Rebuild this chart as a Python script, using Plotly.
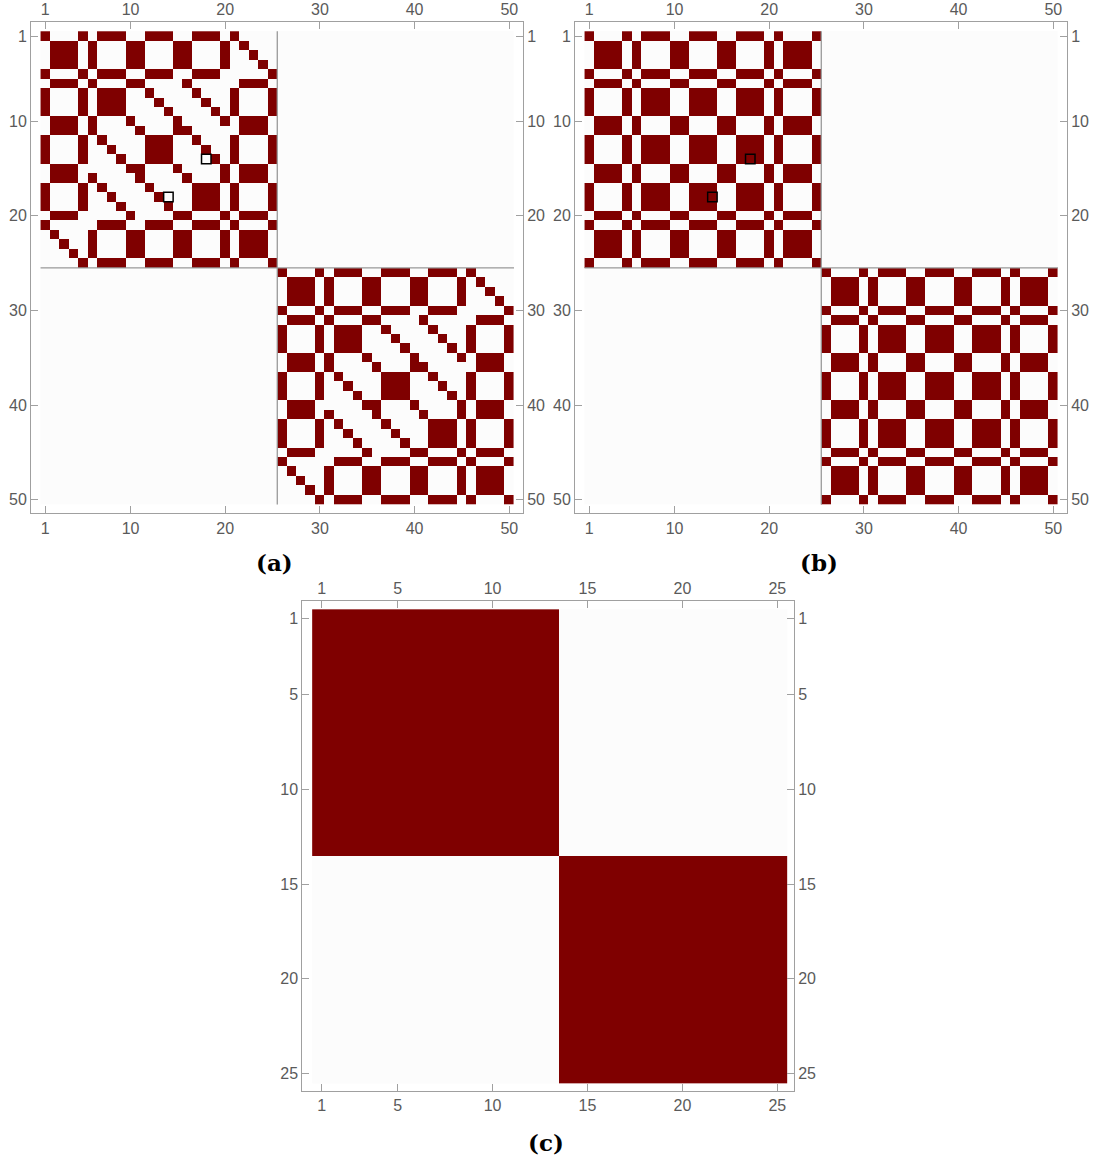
import plotly.graph_objects as go

# 25x25 pattern of each diagonal block in panel (a)
A_BLOCK = [
    "1000101110011100111010000",
    "0111010001100011000101000",
    "0111010001100011000100100",
    "0111010001100011000100010",
    "1000101110011100111000001",
    "0111010001100001000001110",
    "1000101110010000100010001",
    "1000101110001000010010001",
    "1000101110000100001010001",
    "0111010001000010000101110",
    "0111010000100011000001110",
    "1000101000011100100010001",
    "1000100100011100010010001",
    "1000100010011100001010001",
    "0111000001100010000101110",
    "0111010000100001000101110",
    "1000101000010000111010001",
    "1000100100001000111010001",
    "1000100010000100111010001",
    "0111000001000011000101110",
    "1000001110011100111010001",
    "0100010001100011000101110",
    "0010010001100011000101110",
    "0001010001100011000101110",
    "0000101110011100111010001",
]

# 25x25 pattern of each diagonal block in panel (b)
B_BLOCK = [
    "1000101110011100111010001",
    "0111010001100011000101110",
    "0111010001100011000101110",
    "0111010001100011000101110",
    "1000101110011100111010001",
    "0111010001100011000101110",
    "1000101110011100111010001",
    "1000101110011100111010001",
    "1000101110011100111010001",
    "0111010001100011000101110",
    "0111010001100011000101110",
    "1000101110011100111010001",
    "1000101110011100111010001",
    "1000101110011100111010001",
    "0111010001100011000101110",
    "0111010001100011000101110",
    "1000101110011100111010001",
    "1000101110011100111010001",
    "1000101110011100111010001",
    "0111010001100011000101110",
    "1000101110011100111010001",
    "0111010001100011000101110",
    "0111010001100011000101110",
    "0111010001100011000101110",
    "1000101110011100111010001",
]

# block sizes of the coarse-grained matrix in panel (c)
C_GROUPS = [13, 12]

# highlighted entries (row, column)
MARKED = [(14, 18), (18, 14)]

TICKS_AB = [1, 10, 20, 30, 40, 50]
TICKS_C = [1, 5, 10, 15, 20, 25]

DARK = "#7f0000"
LIGHT = "#fcfcfc"
FRAME = "#a0a0a0"
LABEL = "#5a5a5a"
W, H = 1094, 1163


def block_diag(block, copies=2):
    n = len(block)
    size = n * copies
    z = [[0] * size for _ in range(size)]
    for k in range(copies):
        for i, row in enumerate(block):
            for j, ch in enumerate(row):
                z[k * n + i][k * n + j] = int(ch)
    return z


def group_matrix(groups):
    labels = []
    for g, n in enumerate(groups):
        labels += [g] * n
    return [[1 if a == b else 0 for b in labels] for a in labels]


fig = go.Figure()
cscale = [[0, LIGHT], [1, DARK]]


def px_x(v):
    return v / W


def px_y(v):
    return 1 - v / H


panels = [
    # name, matrix, ticks, x frame (px), y frame (px), x range, y range
    ("a", block_diag(A_BLOCK), TICKS_AB, (31, 523), (22, 513.3), [-0.51, 51.45], [51.42, -0.48]),
    ("b", block_diag(B_BLOCK), TICKS_AB, (575, 1067), (22, 513.3), [-0.51, 51.45], [51.42, -0.48]),
    ("c", group_matrix(C_GROUPS), TICKS_C, (302.3, 794), (601, 1091), [-0.02, 25.88], [25.92, 0.06]),
]

layout = dict(
    width=W, height=H, margin=dict(l=0, r=0, t=0, b=0),
    paper_bgcolor="white", plot_bgcolor="white", showlegend=False,
)

axis_style = dict(
    showline=True, linecolor=FRAME, linewidth=1, mirror=False,
    ticks="inside", ticklen=7, tickwidth=1, tickcolor=FRAME,
    showgrid=False, zeroline=False,
    tickfont=dict(family="Liberation Sans, Arial, sans-serif", size=16, color=LABEL),
)

shapes = []
annotations = []

for p, (name, z, ticks, (x0, x1), (y0, y1), xr, yr) in enumerate(panels):
    n = len(z)
    xa, ya = 4 * p + 1, 4 * p + 1
    xb, yb = 4 * p + 2, 4 * p + 2
    xk = "xaxis" if xa == 1 else f"xaxis{xa}"
    yk = "yaxis" if ya == 1 else f"yaxis{ya}"
    xref = "x" if xa == 1 else f"x{xa}"
    yref = "y" if ya == 1 else f"y{ya}"

    fig.add_trace(go.Heatmap(
        z=z, x=list(range(1, n + 1)), y=list(range(1, n + 1)),
        colorscale=cscale, zmin=0, zmax=1, showscale=False,
        xaxis=xref, yaxis=yref, hoverinfo="skip",
    ))

    xdom = [px_x(x0), px_x(x1)]
    ydom = [px_y(y1), px_y(y0)]
    layout[xk] = dict(axis_style, domain=xdom, range=xr, anchor=yref, side="bottom",
                      tickvals=ticks)
    layout[yk] = dict(axis_style, domain=ydom, range=yr, anchor=xref, side="left",
                      tickvals=ticks)
    layout[f"xaxis{xb}"] = dict(axis_style, domain=xdom, range=xr, anchor=yref, side="top",
                                overlaying=xref, matches=xref, tickvals=ticks)
    layout[f"yaxis{yb}"] = dict(axis_style, domain=ydom, range=yr, anchor=xref, side="right",
                                overlaying=yref, matches=yref, tickvals=ticks)
    # an empty trace so the top/right axes belong to a drawn subplot
    fig.add_trace(go.Scatter(x=[None], y=[None], xaxis=f"x{xb}", yaxis=f"y{yb}",
                             mode="markers", hoverinfo="skip", showlegend=False))

    if name in ("a", "b"):
        half = n / 2 + 0.5
        sep = dict(type="line", xref=xref, yref=yref, line=dict(color="#999999", width=1.3))
        shapes.append(dict(sep, x0=half, x1=half, y0=0.5, y1=n + 0.5))
        shapes.append(dict(sep, x0=0.5, x1=n + 0.5, y0=half, y1=half))
        for (r, c) in MARKED:
            shapes.append(dict(type="rect", xref=xref, yref=yref,
                               x0=c - 0.5, x1=c + 0.5, y0=r - 0.5, y1=r + 0.5,
                               line=dict(color="black", width=1.5)))

    annotations.append(dict(
        text=f"<b>({name})</b>", xref="paper", yref="paper",
        x=px_x({"a": 274, "b": 819, "c": 546}[name]),
        y=px_y({"a": 562, "b": 562, "c": 1142}[name]),
        showarrow=False, xanchor="center", yanchor="middle",
        font=dict(family="DejaVu Serif, serif", size=23, color="black"),
    ))

layout["shapes"] = shapes
layout["annotations"] = annotations
fig.update_layout(**layout)

fig.write_html("out.html")
